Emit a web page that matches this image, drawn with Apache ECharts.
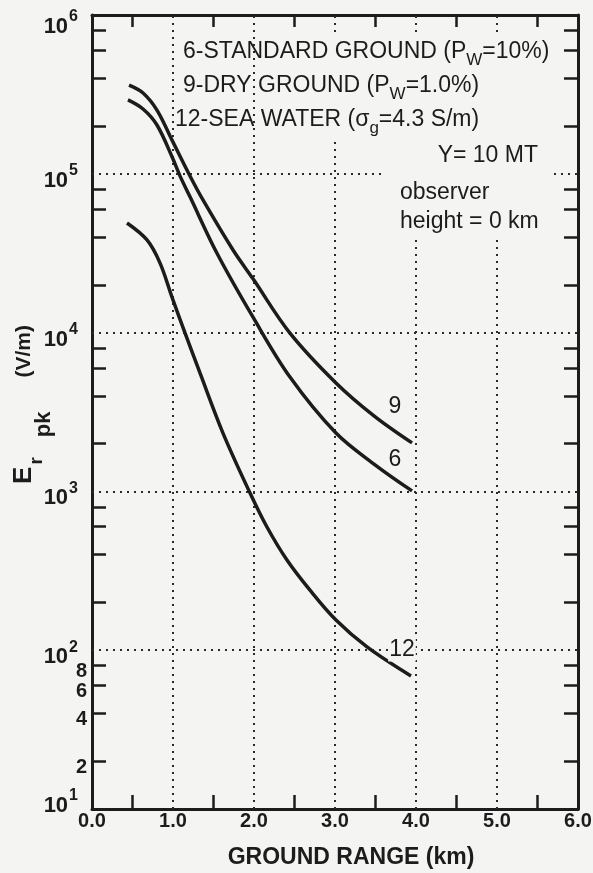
<!DOCTYPE html>
<html>
<head>
<meta charset="utf-8">
<script src="https://cdn.jsdelivr.net/npm/echarts@6/dist/echarts.min.js"></script>
<style>
html,body{margin:0;padding:0;background:#f4f4f2;}
#chart{width:593px;height:873px;}
</style>
</head>
<body>
<div id="chart"></div>
<script>
// ---------------- data ----------------
const xStandard = [0.444, 0.630, 0.802, 0.988, 1.086, 1.210, 1.543, 1.988, 2.444, 3.012, 3.494, 3.951];
const yStandard = [292000, 256000, 203000, 128000, 97000, 71600, 31600, 12500, 5250, 2330, 1470, 1007];

const xDry = [0.457, 0.630, 0.802, 0.988, 1.210, 1.370, 1.741, 1.988, 2.444, 3.012, 3.481, 3.951];
const yDry = [362000, 323000, 252000, 163000, 96800, 68400, 33100, 21800, 9930, 4820, 2990, 2020];

const xSea = [0.432, 0.679, 0.840, 0.988, 1.148, 1.333, 1.617, 1.951, 2.160, 2.407, 2.691, 3.012, 3.395, 3.938];
const ySea = [49000, 38300, 27400, 16700, 9950, 5570, 2330, 977, 597, 370, 239, 155, 105, 68.9];

const xTickValues = [0, 1, 2, 3, 4, 5, 6];
const xTickLabels = ['0.0', '1.0', '2.0', '3.0', '4.0', '5.0', '6.0'];
const xMinorTicks = [0.5, 1.5, 2.5, 3.5, 4.5, 5.5];

const yDecades = [10, 100, 1000, 10000, 100000, 1000000];
const yDecadeExponents = ['1', '2', '3', '4', '5', '6'];
const yMinorTicks = [20, 40, 60, 80, 200, 400, 600, 800, 2000, 4000, 6000, 8000,
  20000, 40000, 60000, 80000, 200000, 400000, 600000, 800000];
const yMinorLabelValues = [20, 40, 60, 80];
const yMinorLabels = ['2', '4', '6', '8'];

const xGridLines = [1, 2, 3, 4, 5];
const yGridLines = [100, 1000, 10000, 100000];

const curveNames = ['6', '9', '12'];

// ---------------- chart ----------------
const FONT = "'Liberation Sans', Arial, Helvetica, sans-serif";
const INK = '#1c1c1c';
const BG = '#f4f4f2';

function pairs(xs, ys) { return xs.map((x, i) => [x, ys[i]]); }

function yLabel(v) {
  for (let i = 0; i < yDecades.length; i++) {
    if (Math.abs(v - yDecades[i]) / yDecades[i] < 1e-6) {
      let b = 'b', s = 's';
      if (i === 0) { b = 'bLow'; s = 'sLow'; }
      else if (i === yDecades.length - 1) { b = 'bTop'; s = 'sTop'; }
      return '{' + b + '|10}{' + s + '|' + yDecadeExponents[i] + '}';
    }
  }
  for (let i = 0; i < yMinorLabelValues.length; i++) {
    if (Math.abs(v - yMinorLabelValues[i]) / yMinorLabelValues[i] < 1e-6) return '{m|' + yMinorLabels[i] + '}';
  }
  return '';
}
function xLabel(v) {
  const i = xTickValues.indexOf(Math.round(v * 10) / 10);
  return i >= 0 ? xTickLabels[i] : '';
}

const tickStyle = { show: true, inside: true, length: 14, lineStyle: { color: INK, width: 2.5 } };
const axisLineStyle = { show: true, onZero: false, lineStyle: { color: INK, width: 3 } };

const chart = echarts.init(document.getElementById('chart'), null, { renderer: 'canvas' });

const lineSeries = (name, data) => ({
  name: name, type: 'line', data: data, smooth: 0.35, showSymbol: false, symbol: 'none',
  lineStyle: { color: INK, width: 3.5 }, z: 5, silent: true
});

const bold = (size, extra) => Object.assign({ fontFamily: FONT, fontSize: size, fontWeight: 'bold', color: INK }, extra || {});

const option = {
  backgroundColor: BG,
  animation: false,
  textStyle: { fontFamily: FONT },
  grid: { left: 92, right: 15, top: 15, bottom: 64, outerBoundsMode: 'none', containLabel: false },
  xAxis: [
    {
      type: 'value', position: 'bottom', min: 0, max: 6, interval: 1,
      axisLine: axisLineStyle,
      axisTick: Object.assign({}, tickStyle, { customValues: xMinorTicks }),
      splitLine: { show: false },
      axisLabel: { margin: 2, formatter: xLabel, color: INK, fontFamily: FONT, fontSize: 20, fontWeight: 'bold' },
      name: 'GROUND RANGE (km)', nameLocation: 'middle', nameGap: 37, nameMoveOverlap: false,
      nameTextStyle: bold(23, { padding: [0, 0, 0, 32] })
    },
    {
      type: 'value', position: 'top', min: 0, max: 6, interval: 1,
      axisLine: axisLineStyle,
      axisTick: Object.assign({}, tickStyle, { length: 12, customValues: xMinorTicks }),
      splitLine: { show: false },
      axisLabel: { show: false }
    }
  ],
  yAxis: [
    {
      type: 'log', logBase: 10, min: 10, max: 1000000, position: 'left',
      axisLine: axisLineStyle,
      axisTick: Object.assign({}, tickStyle, { customValues: yMinorTicks }),
      minorTick: { show: false },
      splitLine: { show: false },
      axisLabel: {
        customValues: yDecades.concat(yMinorLabelValues),
        formatter: yLabel, margin: 5, color: INK,
        rich: {
          b: bold(22, { padding: [14, 0, 0, 0] }),
          s: bold(16, { padding: [0, 9, 6, 1] }),
          bTop: bold(22, { padding: [24, 0, 0, 0] }),
          sTop: bold(16, { padding: [4, 9, 0, 1] }),
          bLow: bold(22, { padding: [0, 0, 6, 0] }),
          sLow: bold(16, { padding: [0, 9, 26, 1] }),
          m: bold(20, { padding: [12, 0, 0, 0] })
        }
      },
      name: '{E|E}{r|r}{p|pk}{u|(V/m)}', nameLocation: 'middle', nameGap: 37, nameRotate: 90,
      nameMoveOverlap: false,
      nameTextStyle: {
        padding: [0, 0, 0, 15],
        rich: {
          E: bold(26),
          r: bold(19, { padding: [26, 16, 0, 2] }),
          p: bold(22, { padding: [40, 0, 0, 4] }),
          u: bold(21, { padding: [0, 0, 0, 34] })
        }
      }
    },
    {
      type: 'log', logBase: 10, min: 10, max: 1000000, position: 'right',
      axisLine: axisLineStyle,
      axisTick: Object.assign({}, tickStyle, { customValues: yMinorTicks }),
      minorTick: { show: false },
      splitLine: { show: false },
      axisLabel: { show: false }
    }
  ],
  series: [
    {
      name: 'grid', type: 'line', data: [], z: 1, silent: true,
      markLine: {
        silent: true, symbol: ['none', 'none'], label: { show: false }, animation: false,
        lineStyle: { color: '#2a2a2a', width: 2, type: [2, 5] },
        data: xGridLines.map(v => ({ xAxis: v })).concat(yGridLines.map(v => ({ yAxis: v })))
      }
    },
    lineSeries(curveNames[0], pairs(xStandard, yStandard)),
    lineSeries(curveNames[1], pairs(xDry, yDry)),
    lineSeries(curveNames[2], pairs(xSea, ySea))
  ]
};
chart.setOption(option);

// ---------------- annotations ----------------
const txt = (x, y, text, align, extra) => ({
  type: 'text', x: x, y: y, z: 20,
  style: Object.assign({
    text: text, fill: INK, font: "23px " + FONT,
    textAlign: align || 'left', textVerticalAlign: 'middle',
    rich: {
      n: { fontFamily: FONT, fontSize: 23, fill: INK, color: INK },
      sub: { fontFamily: FONT, fontSize: 17, fill: INK, color: INK, padding: [16, 0, 0, 0] }
    }
  }, extra || {})
});

chart.setOption({
  graphic: [
    { type: 'rect', z: 10, shape: { x: 300, y: 32, width: 250, height: 110 }, style: { fill: BG } },
    { type: 'rect', z: 10, shape: { x: 386, y: 142, width: 168, height: 98 }, style: { fill: BG } },
    txt(183, 52, '{n|6-STANDARD GROUND (P}{sub|W}{n|=10%)}'),
    txt(183, 86, '{n|9-DRY GROUND (P}{sub|W}{n|=1.0%)}'),
    txt(175, 120, '{n|12-SEA WATER (σ}{sub|g}{n|=4.3 S/m)}'),
    txt(538, 156, 'Y= 10 MT', 'right'),
    txt(400, 193, 'observer'),
    txt(400, 222, 'height = 0 km'),
    txt(395, 407, curveNames[1], 'center'),
    txt(395, 460, curveNames[0], 'center'),
    txt(402, 650, curveNames[2], 'center', { backgroundColor: BG, padding: [0, 1, 0, 1] })
  ]
});
</script>
</body>
</html>
